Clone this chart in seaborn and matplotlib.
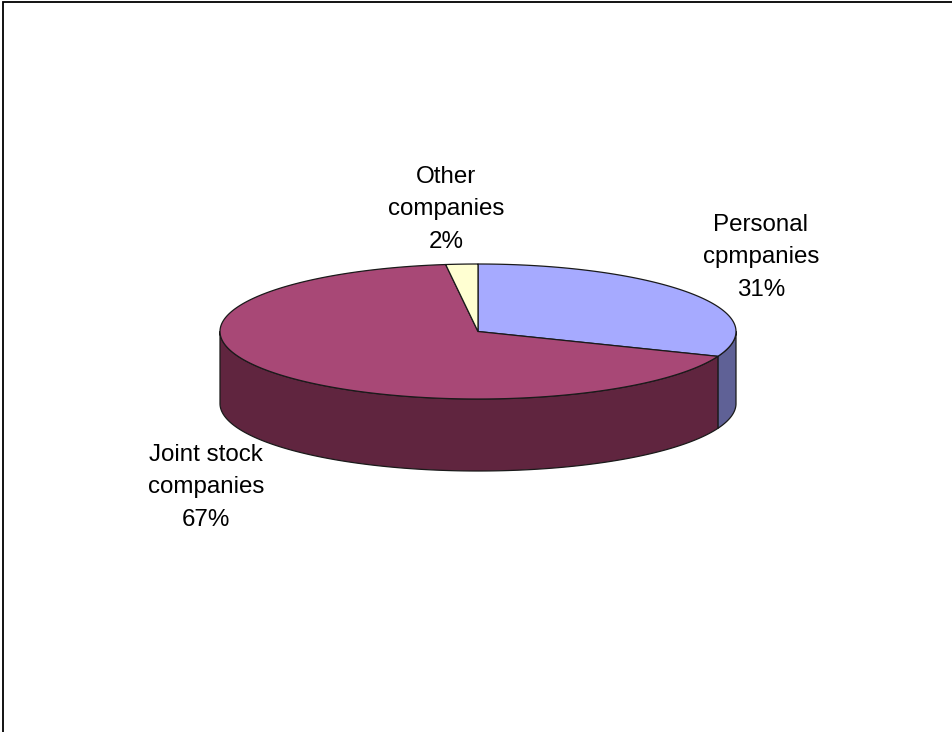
import numpy as np
import matplotlib
matplotlib.use("Agg")
import matplotlib.pyplot as plt
import seaborn as sns

# Share of companies by legal form, in percent, clockwise from twelve o'clock
categories = ["Personal\ncpmpanies", "Joint stock\ncompanies", "Other\ncompanies"]
shares = [31, 67, 2]
top_colors = ["#A6AAFF", "#A84876", "#FFFFD2"]
side_colors = ["#5F6196", "#60253F", "#8F8F78"]
label_centers = [(761, 257.5), (206, 487.5), (446, 209.5)]

sns.set_theme(style="white")
plt.rcParams["font.family"] = ["Liberation Sans", "DejaVu Sans"]

W, H = 953, 732
fig = plt.figure(figsize=(W / 100, H / 100), dpi=100, facecolor="white")
ax = fig.add_axes([0, 0, 1, 1])
ax.set_xlim(0, W)
ax.set_ylim(H, 0)
ax.axis("off")

# Disc geometry in figure pixels
cx, cy, rx, ry, depth = 478, 331.5, 258, 67.5, 72


def rim(a0, a1, n=240):
    """Points on the top ellipse between two angles (degrees, counter-clockwise)."""
    t = np.radians(np.linspace(a0, a1, n))
    return cx + rx * np.cos(t), cy - ry * np.sin(t)


# Slice limits: start at 90 degrees and run clockwise
fractions = np.array(shares) / sum(shares)
edges = 90 - 360 * np.concatenate([[0], np.cumsum(fractions)])
line = dict(edgecolor="#1a1a1a", linewidth=0.9, joinstyle="round")

# Outer wall: only the part of each slice facing the viewer (sin < 0)
for i in range(len(shares)):
    a0, a1 = edges[i], edges[i + 1]
    for lo, hi in [(-180, 0), (-540, -360)]:
        start, end = min(a0, hi), max(a1, lo)
        if start > end:
            x, y = rim(start, end)
            ax.fill(np.r_[x, x[::-1]], np.r_[y, y[::-1] + depth],
                    facecolor=side_colors[i], zorder=1, **line)

# Top faces
for i in range(len(shares)):
    x, y = rim(edges[i], edges[i + 1])
    ax.fill(np.r_[cx, x], np.r_[cy, y], facecolor=top_colors[i], zorder=2, **line)

# Category labels with their percentages
for name, share, (lx, ly) in zip(categories, shares, label_centers):
    ax.text(lx, ly, f"{name}\n{share}%", ha="center", va="center",
            fontsize=17.4, color="black", linespacing=1.59, zorder=3)

# Chart-area border: top and left edges fall inside the canvas
ax.plot([3, 3, W], [H, 1.5, 1.5], color="black", lw=1.3, solid_joinstyle="miter",
        clip_on=False, zorder=4)

fig.savefig("out.png", dpi=100, facecolor="white")
